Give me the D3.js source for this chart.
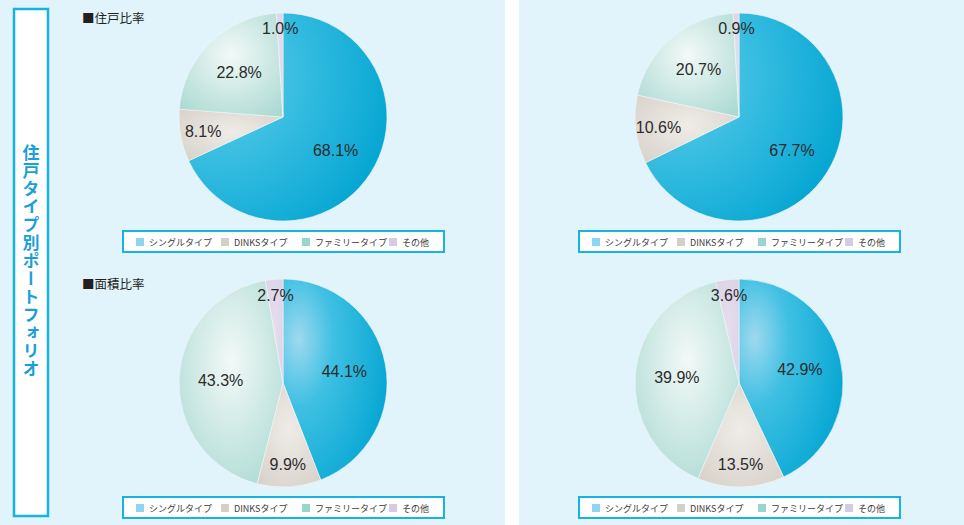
<!DOCTYPE html>
<html>
<head>
<meta charset="utf-8">
<script src="https://cdn.jsdelivr.net/npm/d3@7"></script>
<style>
  body { margin: 0; background: #fff; }
  svg { display: block; }
</style>
</head>
<body>
<script>
// categories and values
var categories = ["シングルタイプ", "DINKSタイプ", "ファミリータイプ", "その他"];
var unitLeft = [68.1, 8.1, 22.8, 1.0];
var unitRight = [67.7, 10.6, 20.7, 0.9];
var areaLeft = [44.1, 9.9, 43.3, 2.7];
var areaRight = [42.9, 13.5, 39.9, 3.6];
var titles = ["■住戸比率", "■面積比率"];

var W = 964, H = 525, R = 104;

var svg = d3.select("body").append("svg")
    .attr("width", W)
    .attr("height", H);

var defs = svg.append("defs");

// gradients per category (centre = highlight)
var grads = [
  { id: "gSingle", cx: 0.15, cy: 0.3, r: 0.95, stops: [["0%", "#9ed9ef"], ["35%", "#3fc0e3"], ["100%", "#00a4d1"]] },
  { id: "gDinks", cx: 0.5, cy: 0.45, r: 0.8, stops: [["0%", "#efece7"], ["100%", "#d3cdc4"]] },
  { id: "gFamily", cx: 0.5, cy: 0.4, r: 0.85, stops: [["0%", "#f2f9f7"], ["100%", "#9fd4cc"]] },
  { id: "gOther", cx: 0.5, cy: 0.5, r: 0.8, stops: [["0%", "#e6dfee"], ["100%", "#dad0e6"]] }
];
grads.forEach(function (g) {
  var rg = defs.append("radialGradient")
      .attr("id", g.id)
      .attr("cx", g.cx).attr("cy", g.cy).attr("r", g.r)
      .attr("fx", g.cx).attr("fy", g.cy);
  g.stops.forEach(function (s) {
    rg.append("stop").attr("offset", s[0]).attr("stop-color", s[1]);
  });
});
var swatch = ["#8fd5f2", "#d4d0c8", "#98d5cd", "#d5cbe2"];

// backgrounds
svg.append("rect").attr("x", 0).attr("y", 0).attr("width", 505).attr("height", H).attr("fill", "#e1f3fb");
svg.append("rect").attr("x", 519).attr("y", 0).attr("width", W - 519).attr("height", H).attr("fill", "#e1f3fb");

// vertical label box
svg.append("rect")
    .attr("x", 14).attr("y", 9).attr("width", 34).attr("height", 507)
    .attr("fill", "#fff")
    .attr("stroke", "#17b3e3")
    .attr("stroke-width", 2.5);
svg.append("text")
    .attr("x", 31).attr("y", 261)
    .attr("text-anchor", "middle")
    .style("writing-mode", "vertical-rl")
    .style("font-family", "'Noto Sans CJK JP', sans-serif")
    .style("font-weight", "bold")
    .style("font-size", "17px")
    .style("letter-spacing", "1px")
    .attr("fill", "#1a9fd9")
    .text("住戸タイプ別ポートフォリオ");

var pie = d3.pie().sort(null).value(function (d) { return d; });
var arc = d3.arc().innerRadius(0).outerRadius(R);

function drawPie(values, cx, cy, title) {
  var g = svg.append("g").attr("transform", "translate(" + cx + "," + cy + ")");
  var arcs = pie(values);

  g.selectAll("path")
    .data(arcs)
    .enter()
    .append("path")
    .attr("d", arc)
    .attr("fill", function (d, i) { return "url(#" + grads[i].id + ")"; })
    .attr("stroke", "#f3f6f6")
    .attr("stroke-width", 0.6);

  g.selectAll("text.lbl")
    .data(arcs)
    .enter()
    .append("text")
    .attr("class", "lbl")
    .attr("transform", function (d) {
      var f = d.data < 5 ? 0.85 : (d.data < 15 ? 0.78 : 0.6);
      var c = d3.arc().innerRadius(R * f).outerRadius(R * f).centroid(d);
      return "translate(" + c + ")";
    })
    .attr("text-anchor", "middle")
    .attr("dy", "0.36em")
    .style("font-family", "'Liberation Sans', Arial, sans-serif")
    .style("font-size", "16px")
    .attr("fill", "#2b2b2b")
    .text(function (d) { return d.data.toFixed(1) + "%"; });

  if (title) {
    svg.append("text")
      .attr("x", 82).attr("y", cy - 94)
      .style("font-family", "'Noto Sans CJK JP', sans-serif")
      .style("font-size", "12.5px")
      .attr("fill", "#231f20")
      .text(title);
  }

  // legend
  var lx = cx - 160, ly = cy + 114;
  var lg = svg.append("g").attr("transform", "translate(" + lx + "," + ly + ")");
  lg.append("rect")
    .attr("width", 321).attr("height", 21)
    .attr("fill", "#fff")
    .attr("stroke", "#17b3e3")
    .attr("stroke-width", 2);
  var xs = [13, 98, 179, 266];
  var items = lg.selectAll("g.item")
    .data(categories)
    .enter()
    .append("g")
    .attr("class", "item")
    .attr("transform", function (d, i) { return "translate(" + xs[i] + ",0)"; });
  items.append("rect")
    .attr("y", 7).attr("width", 8).attr("height", 8)
    .attr("fill", function (d, i) { return swatch[i]; });
  items.append("text")
    .attr("x", 13).attr("y", 14.5)
    .style("font-family", "'Noto Sans CJK JP', sans-serif")
    .style("font-size", "9px")
    .attr("fill", "#3a3a3a")
    .text(function (d) { return d; });
}

drawPie(unitLeft, 283, 117, titles[0]);
drawPie(unitRight, 739, 117, null);
drawPie(areaLeft, 283, 383, titles[1]);
drawPie(areaRight, 739, 383, null);
</script>
</body>
</html>
